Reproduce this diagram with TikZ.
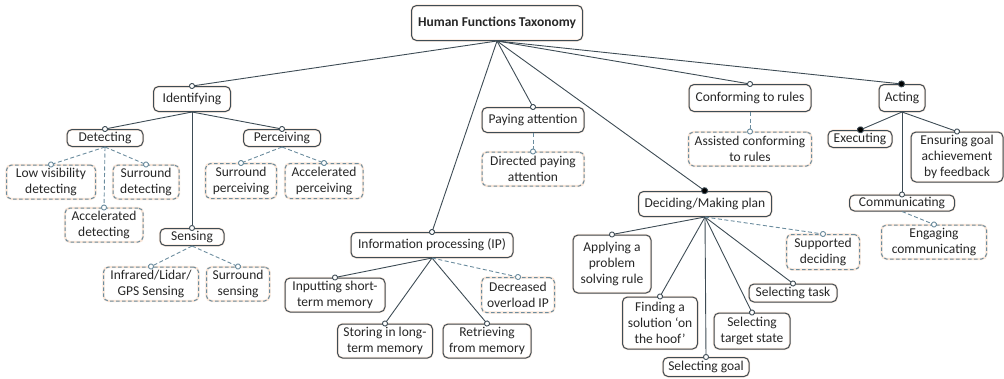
\documentclass[tikz,border=0pt]{standalone}
\usepackage{fontspec}
\setmainfont{Carlito}
\usetikzlibrary{arrows.meta}
\definecolor{boxline}{HTML}{3E4C55}
\definecolor{dashline}{HTML}{6B8C9E}
\definecolor{halo}{HTML}{FAE6D8}
\definecolor{txt}{HTML}{262626}
\tikzset{
  fbox/.style={draw=boxline, line width=1pt, rounded corners=5pt, align=center,
    inner sep=1.5pt, text=txt, font=\fontsize{13.5}{16}\selectfont,
    preaction={draw=halo, solid, line width=2.2pt}},
  dbox/.style={fbox, draw=dashline, dash pattern=on 3.5pt off 2.5pt},
  link/.style={draw=boxline, line width=0.9pt, shorten >=-3pt,
    -{Circle[length=6pt, fill=white]}},
  hardlink/.style={link, -{Circle[length=7pt, fill=black]}},
  softlink/.style={link, draw=dashline, dash pattern=on 4pt off 2.5pt}
}
\begin{document}
\begin{tikzpicture}[x=1pt, y=-1pt]
	\useasboundingbox (0,0) rectangle (1004,378);
	\node[fbox, minimum width=171, minimum height=35, font=\fontsize{13.5}{16}\selectfont\bfseries] at (497,23) (root) {Human Functions Taxonomy};
	% identifying branch
	\node[fbox, minimum width=77, minimum height=25] at (192,99) (ident) {Identifying};
	\node[fbox, minimum width=76, minimum height=17] at (105,138) (detect) {Detecting};
	\node[fbox, minimum width=77, minimum height=17] at (282,138) (perceive) {Perceiving};
	\node[fbox, minimum width=64, minimum height=17] at (192,237) (sense) {Sensing};
	\node[dbox, minimum width=89, minimum height=34] at (51,182) (lowvis) {Low visibility\\detecting};
	\node[dbox, minimum width=66, minimum height=34] at (146,182) (surdet) {Surround\\detecting};
	\node[dbox, minimum width=78, minimum height=34] at (104,225) (accdet) {Accelerated\\detecting};
	\node[dbox, minimum width=71, minimum height=35] at (241,181) (surperc) {Surround\\perceiving};
	\node[dbox, minimum width=78, minimum height=35] at (324,181) (accperc) {Accelerated\\perceiving};
	\node[dbox, minimum width=95, minimum height=34] at (151,284) (infrared) {Infrared/Lidar/\\GPS Sensing};
	\node[dbox, minimum width=63, minimum height=34] at (238,284) (sursens) {Surround\\sensing};
	% information processing
	\node[fbox, minimum width=162, minimum height=25] at (432,245) (infoproc) {Information processing (IP)};
	\node[fbox, minimum width=100, minimum height=34] at (335,295) (inputting) {Inputting short-\\term memory};
	\node[fbox, minimum width=95, minimum height=34] at (385,341) (storing) {Storing in long-\\term memory};
	\node[fbox, minimum width=88, minimum height=34] at (487,341) (retrieving) {Retrieving\\from memory};
	\node[dbox, minimum width=73, minimum height=35] at (518,295) (decreased) {Decreased\\overload IP};
	% attention, rules
	\node[fbox, minimum width=102, minimum height=25] at (533,120) (payatt) {Paying attention};
	\node[dbox, minimum width=102, minimum height=34] at (533,169) (directed) {Directed paying\\attention};
	\node[fbox, minimum width=122, minimum height=27] at (750,98) (conform) {Conforming to rules};
	\node[dbox, minimum width=123, minimum height=34] at (750,149) (assisted) {Assisted conforming\\to rules};
	% acting
	\node[fbox, minimum width=46, minimum height=27] at (902,98) (acting) {Acting};
	\node[fbox, minimum width=64, minimum height=17] at (860,139) (executing) {Executing};
	\node[fbox, minimum width=92, minimum height=50] at (957,157) (ensuring) {Ensuring goal\\achievement\\by feedback};
	\node[fbox, minimum width=105, minimum height=16] at (902,203) (communic) {Communicating};
	\node[dbox, minimum width=105, minimum height=34] at (934,242) (engaging) {Engaging\\communicating};
	% deciding
	\node[fbox, minimum width=133, minimum height=25] at (705,204) (deciding) {Deciding/Making plan};
	\node[fbox, minimum width=78, minimum height=58] at (612,264) (applying) {Applying a\\problem\\solving rule};
	\node[fbox, minimum width=75, minimum height=52] at (660,323) (finding) {Finding a\\solution ‘on\\the hoof’};
	\node[fbox, minimum width=86, minimum height=19] at (706,367) (selgoal) {Selecting goal};
	\node[fbox, minimum width=76, minimum height=36] at (752,331) (seltarget) {Selecting\\target state};
	\node[fbox, minimum width=88, minimum height=18] at (793,293) (seltask) {Selecting task};
	\node[dbox, minimum width=73, minimum height=35] at (823,252) (supported) {Supported\\deciding};
	% connectors
	\foreach \a/\b in {root/ident, root/infoproc, root/payatt, root/conform,
	  ident/detect, ident/perceive, ident/sense,
	  infoproc/inputting, infoproc/storing, infoproc/retrieving,
	  acting/ensuring, acting/communic,
	  deciding/applying, deciding/finding, deciding/selgoal, deciding/seltarget, deciding/seltask}{
		\draw[link] (\a.south) -- (\b.north);
	}
	\foreach \a/\b in {root/deciding, root/acting, acting/executing}{
		\draw[hardlink] (\a.south) -- (\b.north);
	}
	\foreach \a/\b in {detect/lowvis, detect/surdet, detect/accdet,
	  perceive/surperc, perceive/accperc, sense/infrared, sense/sursens,
	  infoproc/decreased, payatt/directed, conform/assisted,
	  communic/engaging, deciding/supported}{
		\draw[softlink] (\a.south) -- (\b.north);
	}
\end{tikzpicture}
\end{document}
